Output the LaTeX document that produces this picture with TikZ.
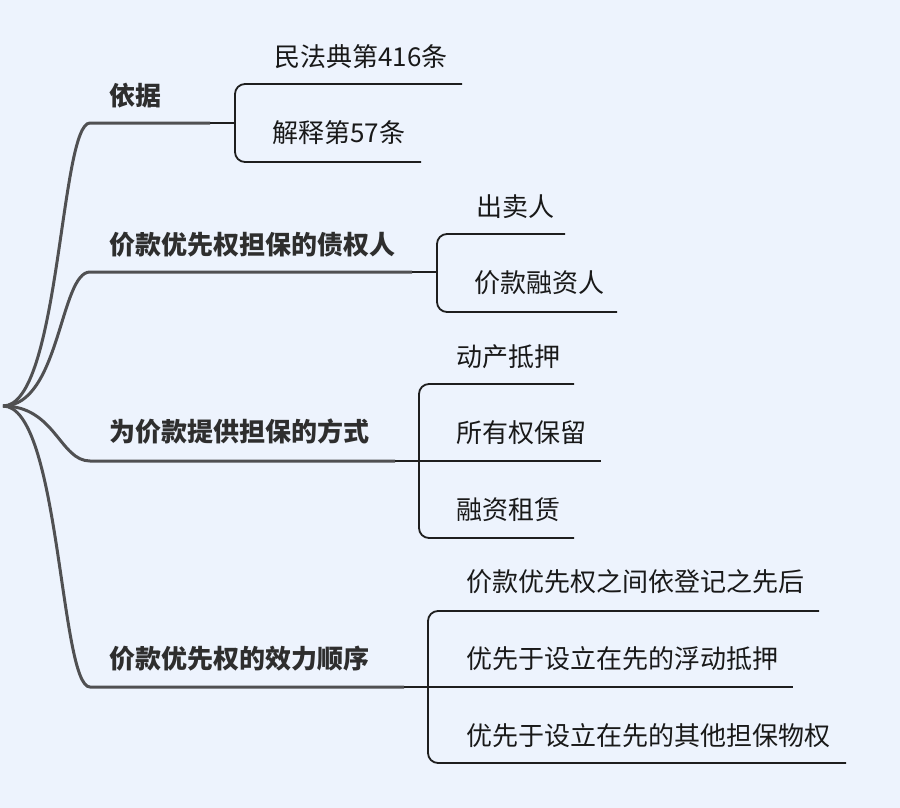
\documentclass[tikz,border=0pt]{standalone}
\usepackage{fontspec}
\setmainfont{Noto Sans CJK SC}
\usepackage{tikz}
\definecolor{bgblue}{RGB}{237,243,253}
\definecolor{trunkgray}{RGB}{80,80,82}
\definecolor{twiggray}{RGB}{30,30,30}
\tikzset{
    branch/.style={anchor=west,inner sep=0pt,text=black!82,font=\bfseries\fontsize{26}{31}\selectfont},
    leaf/.style={anchor=west,inner sep=0pt,text=black!90,font=\fontsize{26}{31}\selectfont},
    trunk/.style={draw=trunkgray,line width=3pt},
    twig/.style={draw=twiggray,line width=1.8pt,rounded corners=10pt}
}

\begin{document}
\begin{tikzpicture}[x=1pt,y=-1pt]
                \useasboundingbox[fill=bgblue] (0,0) rectangle (900,808);
                \coordinate (root) at (3,406);
                % branch labels
                \node[branch] (basis)    at (109,96)  {依据};
                \node[branch] (creditor) at (109,245) {价款优先权担保的债权人};
                \node[branch] (mode)     at (109,432) {为价款提供担保的方式};
                \node[branch] (order)    at (109,659) {价款优先权的效力顺序};
                % underlines of the branches
                \coordinate (basis s) at (90,123);    \coordinate (basis e) at (210,123);
                \coordinate (creditor s) at (90,272); \coordinate (creditor e) at (412,272);
                \coordinate (mode s) at (90,461);     \coordinate (mode e) at (395,461);
                \coordinate (order s) at (90,687);    \coordinate (order e) at (404,687);
                % junctions
                \coordinate (j1) at (235,123);
                \coordinate (j2) at (437,272);
                \coordinate (j3) at (419,461);
                \coordinate (j4) at (428,687);
                % leaves
                \node[leaf] (code)   at (274,57)  {民法典第416条};
                \node[leaf] (interp) at (272,133) {解释第57条};
                \node[leaf] (seller) at (476,207) {出卖人};
                \node[leaf] (lender) at (474,283) {价款融资人};
                \node[leaf] (chattel) at (456,357) {动产抵押};
                \node[leaf] (retain)  at (456,433) {所有权保留};
                \node[leaf] (lease)   at (456,510) {融资租赁};
                \node[leaf] (among)    at (466,582) {价款优先权之间依登记之先后};
                \node[leaf] (floating) at (466,659) {优先于设立在先的浮动抵押};
                \node[leaf] (others)   at (466,736) {优先于设立在先的其他担保物权};
                % underlines of the leaves
                \coordinate (code e)   at (462,84);
                \coordinate (interp e) at (421,162);
                \coordinate (seller e) at (565,234);
                \coordinate (lender e) at (617,312);
                \coordinate (chattel e) at (574,384);
                \coordinate (retain e)  at (601,461);
                \coordinate (lease e)   at (574,538);
                \coordinate (among e)    at (819,611);
                \coordinate (floating e) at (793,687);
                \coordinate (others e)   at (846,763);
                % trunks
                \draw[trunk] (root) .. controls +(57,0) and +(-30,0) .. (basis s) -- (basis e);
                \draw[trunk] (root) .. controls +(57,0) and +(-30,0) .. (creditor s) -- (creditor e);
                \draw[trunk] (root) .. controls +(52,0) and +(-30,0) .. (mode s) -- (mode e);
                \draw[trunk] (root) .. controls +(57,0) and +(-30,0) .. (order s) -- (order e);
                % brackets
                \draw[twig] (basis e) -- (j1);
                \draw[twig] (code e) -- (code e -| j1) -- (interp e -| j1) -- (interp e);
                \draw[twig] (creditor e) -- (j2);
                \draw[twig] (seller e) -- (seller e -| j2) -- (lender e -| j2) -- (lender e);
                \draw[twig] (mode e) -- (retain e);
                \draw[twig] (chattel e) -- (chattel e -| j3) -- (lease e -| j3) -- (lease e);
                \draw[twig] (order e) -- (floating e);
                \draw[twig] (among e) -- (among e -| j4) -- (others e -| j4) -- (others e);
            \end{tikzpicture}
\end{document}
